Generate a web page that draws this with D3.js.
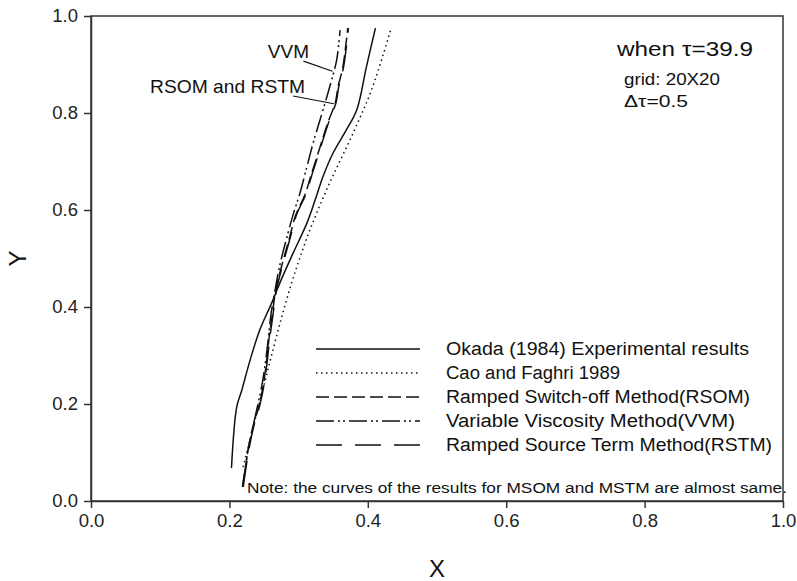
<!DOCTYPE html>
<html>
<head>
<meta charset="utf-8">
<script src="https://cdn.jsdelivr.net/npm/d3@7"></script>
<style>
  html, body { margin: 0; padding: 0; background: #fff; }
  svg { display: block; font-family: "Liberation Sans", Arial, sans-serif; }
</style>
</head>
<body>
<svg id="chart" width="797" height="581"></svg>
<script>
// Interface profiles X(Y) for each method
const okadaX = [0.203, 0.2106, 0.218, 0.230, 0.244, 0.261, 0.276, 0.292, 0.312, 0.324, 0.335, 0.350, 0.369, 0.384, 0.398, 0.411];
const okadaY = [0.068, 0.194, 0.229, 0.291, 0.353, 0.408, 0.460, 0.511, 0.573, 0.621, 0.668, 0.718, 0.765, 0.806, 0.895, 0.975];

const caoX = [0.2197, 0.234, 0.252, 0.270, 0.290, 0.314, 0.343, 0.376, 0.406, 0.433];
const caoY = [0.070, 0.150, 0.250, 0.350, 0.450, 0.550, 0.650, 0.750, 0.850, 0.971];

const rsomX = [0.219, 0.227, 0.234, 0.243, 0.249, 0.253, 0.257, 0.262, 0.267, 0.276, 0.286, 0.296, 0.309, 0.319, 0.331, 0.342, 0.353, 0.357, 0.364, 0.371];
const rsomY = [0.029, 0.105, 0.153, 0.198, 0.239, 0.280, 0.332, 0.384, 0.435, 0.487, 0.538, 0.590, 0.631, 0.676, 0.730, 0.779, 0.821, 0.854, 0.895, 0.975];

const vvmX = [0.219, 0.227, 0.234, 0.241, 0.247, 0.2515, 0.256, 0.260, 0.266, 0.273, 0.282, 0.292, 0.302, 0.312, 0.321, 0.331, 0.341, 0.349, 0.355, 0.360];
const vvmY = [0.029, 0.105, 0.153, 0.198, 0.239, 0.280, 0.332, 0.384, 0.435, 0.487, 0.538, 0.590, 0.635, 0.689, 0.738, 0.786, 0.834, 0.875, 0.909, 0.971];

const rstmX = [0.220, 0.228, 0.235, 0.244, 0.250, 0.254, 0.258, 0.263, 0.268, 0.277, 0.287, 0.297, 0.310, 0.320, 0.332, 0.343, 0.354, 0.358, 0.365, 0.372];
const rstmY = [0.029, 0.105, 0.153, 0.198, 0.239, 0.280, 0.332, 0.384, 0.435, 0.487, 0.538, 0.590, 0.631, 0.676, 0.730, 0.779, 0.821, 0.854, 0.895, 0.975];

const tickValues = [0, 0.2, 0.4, 0.6, 0.8, 1.0];
const tickLabels = ["0.0", "0.2", "0.4", "0.6", "0.8", "1.0"];

const seriesNames = [
  "Okada (1984) Experimental results",
  "Cao and Faghri 1989",
  "Ramped Switch-off Method(RSOM)",
  "Variable Viscosity Method(VVM)",
  "Ramped Source Term Method(RSTM)"
];
const nameWidths = [303, 174, 304, 289, 326];

const margin = { left: 91, top: 16, right: 797 - 783, bottom: 581 - 501 };
const W = 797, H = 581;
const pw = W - margin.left - margin.right;
const ph = H - margin.top - margin.bottom;

const svg = d3.select("#chart");
const g = svg.append("g").attr("transform", `translate(${margin.left},${margin.top})`);

const x = d3.scaleLinear().domain([0, 1]).range([0, pw]);
const y = d3.scaleLinear().domain([0, 1]).range([ph, 0]);

const ink = "#111";
const axisInk = "#333";

// frame
g.append("rect").attr("x", 0).attr("y", 0).attr("width", pw).attr("height", ph)
  .attr("fill", "none").attr("stroke", axisInk).attr("stroke-width", 1.5);

// axes
const fmt = (d) => tickLabels[tickValues.indexOf(d)];
const xAxis = g.append("g").attr("transform", `translate(0,${ph})`)
  .call(d3.axisBottom(x).tickValues(tickValues).tickFormat(fmt).tickSize(7).tickPadding(6).tickSizeOuter(0));
const yAxis = g.append("g")
  .call(d3.axisLeft(y).tickValues(tickValues).tickFormat(fmt).tickSize(7).tickPadding(6).tickSizeOuter(0));
[xAxis, yAxis].forEach(a => {
  a.select(".domain").attr("stroke", axisInk).attr("stroke-width", 1.5);
  a.selectAll(".tick line").attr("stroke", axisInk).attr("stroke-width", 1.5);
  a.selectAll(".tick text").attr("font-size", 18.5).attr("fill", "#222")
    .attr("font-family", "'Liberation Sans', Arial, sans-serif");
});

// axis titles
svg.append("text").attr("x", margin.left + pw / 2).attr("y", 577)
  .attr("text-anchor", "middle").attr("font-size", 24).attr("fill", "#111").text("X");
svg.append("text").attr("transform", `translate(26,${margin.top + ph / 2}) rotate(-90)`)
  .attr("text-anchor", "middle").attr("font-size", 24).attr("fill", "#111").text("Y");

// series
const series = [
  { xs: okadaX, ys: okadaY, dash: null },
  { xs: caoX, ys: caoY, dash: "1.5,3.5" },
  { xs: rsomX, ys: rsomY, dash: "13,5" },
  { xs: vvmX, ys: vvmY, dash: "18,4,2,3,2,4" },
  { xs: rstmX, ys: rstmY, dash: "26,13" }
];

const line = d3.line().x(d => x(d[0])).y(d => y(d[1])).curve(d3.curveCatmullRom.alpha(0.5));

series.forEach(s => {
  const pts = s.xs.map((v, i) => [v, s.ys[i]]);
  g.append("path").datum(pts).attr("d", line)
    .attr("fill", "none").attr("stroke", ink).attr("stroke-width", 1.5)
    .attr("stroke-dasharray", s.dash);
});

// legend
const legendRows = [349, 373, 397, 421, 445];
series.forEach((s, i) => {
  svg.append("line").attr("x1", 316).attr("x2", 420)
    .attr("y1", legendRows[i]).attr("y2", legendRows[i])
    .attr("stroke", ink).attr("stroke-width", 1.5).attr("stroke-dasharray", s.dash);
  svg.append("text").attr("x", 446).attr("y", legendRows[i]).attr("dy", "0.36em")
    .attr("font-size", 18).attr("fill", "#111")
    .attr("textLength", nameWidths[i]).attr("lengthAdjust", "spacingAndGlyphs")
    .text(seriesNames[i]);
});

// annotations
svg.append("text").attr("x", 247).attr("y", 493).attr("font-size", 15.5).attr("fill", "#111")
  .attr("textLength", 540).attr("lengthAdjust", "spacingAndGlyphs")
  .text("Note: the curves of the results for MSOM and MSTM are almost same.");

svg.append("text").attr("x", 617).attr("y", 56).attr("font-size", 20.5).attr("fill", "#111")
  .attr("textLength", 136).attr("lengthAdjust", "spacingAndGlyphs")
  .text("when τ=39.9");
svg.append("text").attr("x", 624).attr("y", 85).attr("font-size", 16.5).attr("fill", "#111")
  .attr("textLength", 96).attr("lengthAdjust", "spacingAndGlyphs")
  .text("grid: 20X20");
svg.append("text").attr("x", 624).attr("y", 107).attr("font-size", 16.5).attr("fill", "#111")
  .attr("textLength", 64).attr("lengthAdjust", "spacingAndGlyphs")
  .text("Δτ=0.5");

svg.append("text").attr("x", 309).attr("y", 58).attr("text-anchor", "end")
  .attr("font-size", 19).attr("fill", "#111").text("VVM");
svg.append("text").attr("x", 305).attr("y", 93).attr("text-anchor", "end")
  .attr("font-size", 19).attr("fill", "#111")
  .attr("textLength", 155).attr("lengthAdjust", "spacingAndGlyphs")
  .text("RSOM and RSTM");

// leader lines pointing each label to its curve
const leaders = [
  { from: [0.307, 0.907], to: [0.349, 0.886] },
  { from: [0.292, 0.835], to: [0.351, 0.819] }
];
leaders.forEach(l => {
  g.append("line").attr("x1", x(l.from[0])).attr("y1", y(l.from[1]))
    .attr("x2", x(l.to[0])).attr("y2", y(l.to[1]))
    .attr("stroke", ink).attr("stroke-width", 1.2);
});
</script>
</body>
</html>
